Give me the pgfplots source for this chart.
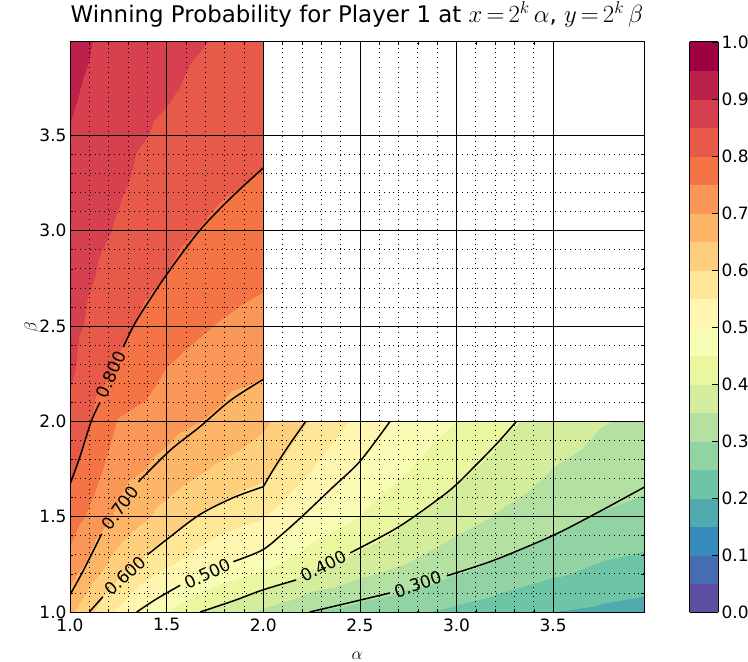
\documentclass[border=0pt]{standalone}
\usepackage[no-math]{fontspec}
\setmainfont{DejaVu Sans}
\usepackage{pgfplots}
\pgfplotsset{compat=1.18}

% Spectral_r, 20 bands (0.00-0.05 ... 0.95-1.00)
\pgfplotsset{
  colormap={spectralr}{
    rgb255=(94,79,162)   rgb255=(71,109,176)  rgb255=(53,139,188)  rgb255=(80,170,175)
    rgb255=(109,197,165) rgb255=(146,211,164) rgb255=(180,225,162) rgb255=(211,237,156)
    rgb255=(235,247,160) rgb255=(248,252,181) rgb255=(255,247,177) rgb255=(254,231,150)
    rgb255=(254,208,126) rgb255=(253,182,104) rgb255=(250,150,86)  rgb255=(245,116,70)
    rgb255=(231,89,72)   rgb255=(215,64,78)   rgb255=(187,33,73)   rgb255=(158,1,66)
  },
}

\newcommand{\lbl}{\fontsize{17bp}{20bp}\selectfont}

\begin{document}
\begin{tikzpicture}
\useasboundingbox (-70bp,-50bp) rectangle (678bp,612bp);
\begin{axis}[
    scale only axis, width=574bp, height=570bp,
    xmin=1, xmax=3.97, ymin=1, ymax=3.99,
    colormap name=spectralr, colormap access=piecewise constant,
    point meta min=0, point meta max=1,
    xtick={1,1.5,2,2.5,3,3.5}, ytick={1,1.5,2,2.5,3,3.5},
    minor tick num=4,
    grid=both,
    major grid style={black, line width=0.6bp},
    minor grid style={black, line width=0.8bp, dash pattern=on 0.9bp off 4bp},
    axis on top,
    tick align=inside,
    major tick length=6bp, minor tick length=3bp,
    tick style={black, line width=0.6bp},
    axis line style={black, line width=1bp},
    /pgf/number format/assume math mode=true,
    ticklabel style={font=\lbl},
    xticklabel style={yshift=-3bp, /pgf/number format/.cd, fixed, fixed zerofill, precision=1},
    yticklabel style={/pgf/number format/.cd, fixed, fixed zerofill, precision=1},
    xlabel={$\alpha$}, ylabel={$\beta$},
    label style={font=\lbl},
    xlabel style={at={(axis description cs:0.5,-0.076)}, anchor=center},
    ylabel style={at={(axis description cs:-0.066,0.5)}, anchor=center},
    title={Winning Probability for Player 1 at $x\,{=}\,2^k\,\alpha$, $y\,{=}\,2^k\,\beta$},
    title style={font=\fontsize{22.9bp}{27bp}\selectfont, at={(0.5,1)}, anchor=base, yshift=14bp},
    colorbar,
    colorbar style={
        at={(parent axis.north east)}, anchor=north west, xshift=37bp,
        scale only axis, width=28.5bp, height=570bp,
        ytick={0,0.1,0.2,0.3,0.4,0.5,0.6,0.7,0.8,0.9,1.0},
        ytick pos=right, tick align=inside, major tick length=6bp,
        tick style={black, line width=0.6bp},
        axis line style={black, line width=1bp},
        /pgf/number format/assume math mode=true,
        yticklabel style={font=\lbl, /pgf/number format/.cd, fixed, fixed zerofill, precision=1},
    },
]

% left strip: alpha in [1,2], beta in [1,4]
\addplot[surf, shader=interp, mesh/cols=5, point meta=explicit]
  table[x=a, y=b, meta=f] {
a b f
1.00 1.00 0.660
1.25 1.00 0.540
1.50 1.00 0.450
1.75 1.00 0.381
2.00 1.00 0.340
1.00 1.25 0.733
1.25 1.25 0.626
1.50 1.25 0.557
1.75 1.25 0.506
2.00 1.25 0.467
1.00 1.50 0.777
1.25 1.50 0.689
1.50 1.50 0.630
1.75 1.50 0.584
2.00 1.50 0.553
1.00 1.75 0.812
1.25 1.75 0.721
1.50 1.75 0.683
1.75 1.75 0.645
2.00 1.75 0.617
1.00 2.00 0.841
1.25 2.00 0.747
1.50 2.00 0.718
1.75 2.00 0.693
2.00 2.00 0.660
1.00 2.25 0.856
1.25 2.25 0.791
1.50 2.25 0.746
1.75 2.25 0.722
2.00 2.25 0.705
1.00 2.50 0.864
1.25 2.50 0.813
1.50 2.50 0.772
1.75 2.50 0.749
2.00 2.50 0.733
1.00 2.75 0.872
1.25 2.75 0.829
1.50 2.75 0.798
1.75 2.75 0.771
2.00 2.75 0.757
1.00 3.00 0.880
1.25 3.00 0.845
1.50 3.00 0.813
1.75 3.00 0.792
2.00 3.00 0.777
1.00 3.25 0.888
1.25 3.25 0.856
1.50 3.25 0.828
1.75 3.25 0.808
2.00 3.25 0.796
1.00 3.50 0.897
1.25 3.50 0.863
1.50 3.50 0.842
1.75 3.50 0.822
2.00 3.50 0.812
1.00 3.75 0.908
1.25 3.75 0.870
1.50 3.75 0.855
1.75 3.75 0.835
2.00 3.75 0.826
1.00 4.00 0.920
1.25 4.00 0.877
1.50 4.00 0.864
1.75 4.00 0.848
2.00 4.00 0.841
};

% right strip: alpha in [2,4], beta in [1,2]
\addplot[surf, shader=interp, mesh/cols=9, point meta=explicit]
  table[x=a, y=b, meta=f] {
a b f
2.00 1.00 0.340
2.25 1.00 0.299
2.50 1.00 0.279
2.75 1.00 0.258
3.00 1.00 0.238
3.25 1.00 0.219
3.50 1.00 0.200
3.75 1.00 0.190
4.00 1.00 0.180
2.00 1.25 0.467
2.25 1.25 0.414
2.50 1.25 0.378
2.75 1.25 0.348
3.00 1.25 0.316
3.25 1.25 0.290
3.50 1.25 0.269
3.75 1.25 0.247
4.00 1.25 0.235
2.00 1.50 0.553
2.25 1.50 0.491
2.50 1.50 0.448
2.75 1.50 0.405
3.00 1.50 0.370
3.25 1.50 0.341
3.50 1.50 0.318
3.75 1.50 0.296
4.00 1.50 0.283
2.00 1.75 0.617
2.25 1.75 0.550
2.50 1.75 0.493
2.75 1.75 0.452
3.00 1.75 0.412
3.25 1.75 0.379
3.50 1.75 0.349
3.75 1.75 0.329
4.00 1.75 0.315
2.00 2.00 0.660
2.25 2.00 0.595
2.50 2.00 0.536
2.75 2.00 0.486
3.00 2.00 0.450
3.25 2.00 0.410
3.50 2.00 0.380
3.75 2.00 0.353
4.00 2.00 0.340
};

% contour lines, broken where the labels sit
\pgfplotsset{cline/.style={black, line width=1.5bp, smooth, tension=0.5, forget plot}}
% 0.800
\addplot[cline] coordinates {(1.0,1.67) (1.05,1.81) (1.11,2.0) (1.155,2.10)};
\addplot[cline] coordinates {(1.276,2.39) (1.345,2.53) (1.5,2.77) (1.67,3.0) (1.83,3.17) (2.0,3.33)};
% 0.700
\addplot[cline] coordinates {(1.0,1.09) (1.06,1.2) (1.12,1.32) (1.164,1.41)};
\addplot[cline] coordinates {(1.354,1.683) (1.52,1.85) (1.67,1.97) (1.83,2.11) (2.0,2.22)};
% 0.600
\addplot[cline] coordinates {(1.10,1.0) (1.17,1.08)};
\addplot[cline] coordinates {(1.40,1.30) (1.50,1.38) (1.67,1.51) (1.845,1.60) (2.0,1.657)};
\addplot[cline] coordinates {(2.0,1.657) (2.06,1.76) (2.13,1.87) (2.22,2.0)};
% 0.500
\addplot[cline] coordinates {(1.345,1.0) (1.45,1.07) (1.57,1.14)};
\addplot[cline] coordinates {(1.845,1.264) (1.995,1.325) (2.10,1.41) (2.21,1.51) (2.355,1.65) (2.50,1.79) (2.656,2.0)};
% 0.400
\addplot[cline] coordinates {(1.673,1.0) (1.85,1.06) (1.995,1.115) (2.17,1.168)};
\addplot[cline] coordinates {(2.45,1.31) (2.656,1.42) (2.78,1.50) (2.967,1.64) (3.09,1.76) (3.21,1.885) (3.31,2.0)};
% 0.300
\addplot[cline] coordinates {(2.24,1.0) (2.45,1.05) (2.656,1.10)};
\addplot[cline] coordinates {(2.95,1.19) (3.19,1.27) (3.485,1.395) (3.69,1.50) (3.97,1.654)};

\node[font=\lbl, rotate=66] at (axis cs:1.212,2.245) {0.800};
\node[font=\lbl, rotate=54] at (axis cs:1.259,1.547) {0.700};
\node[font=\lbl, rotate=43] at (axis cs:1.285,1.19) {0.600};
\node[font=\lbl, rotate=25] at (axis cs:1.71,1.20) {0.500};
\node[font=\lbl, rotate=27] at (axis cs:2.31,1.24) {0.400};
\node[font=\lbl, rotate=19] at (axis cs:2.80,1.145) {0.300};
\end{axis}
\end{tikzpicture}
\end{document}
